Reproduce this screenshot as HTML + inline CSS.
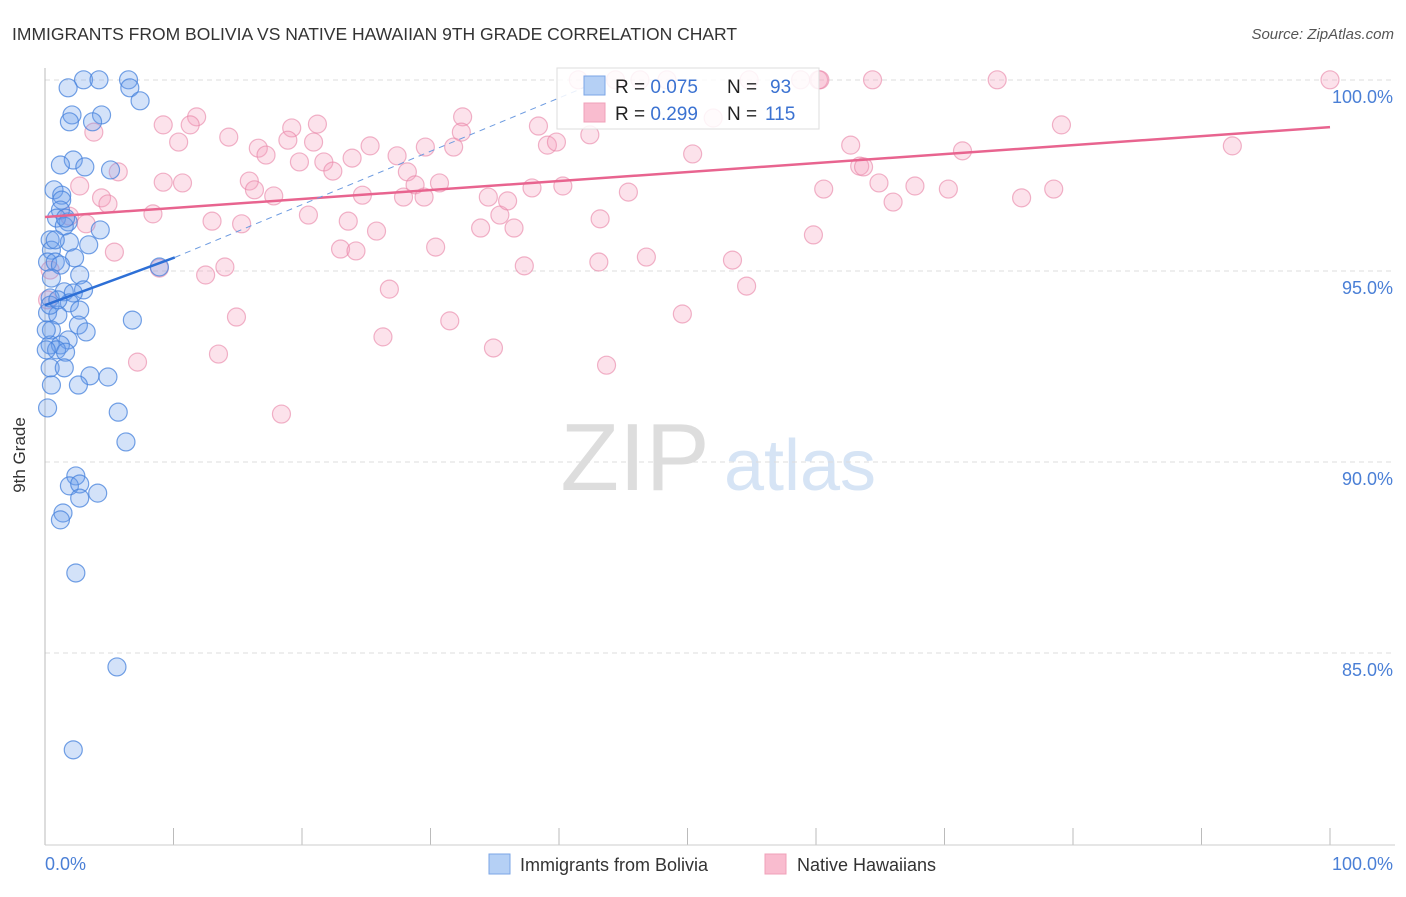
<!DOCTYPE html>
<html><head><meta charset="utf-8"><style>
body{margin:0;background:#fff;font-family:"Liberation Sans",sans-serif}
svg text{font-family:"Liberation Sans",sans-serif}
</style></head><body>
<svg width="1406" height="892" id="chart">
<text x="12" y="40" font-size="17.5" fill="#333">IMMIGRANTS FROM BOLIVIA VS NATIVE HAWAIIAN 9TH GRADE CORRELATION CHART</text>
<text x="1394" y="39" font-size="15" fill="#555" font-style="italic" text-anchor="end">Source: ZipAtlas.com</text>
<g>
<text x="635" y="490" font-size="96" fill="#ddd" font-family="Liberation Serif" text-anchor="middle">ZIP</text>
<text x="800" y="490" font-size="72" fill="#d6e4f5" text-anchor="middle">atlas</text>
</g>
<g id="grid"></g>
<line x1="45" y1="68" x2="45" y2="845" stroke="#bbb"/>
<line x1="45" y1="845" x2="1395" y2="845" stroke="#ccc"/>
<text x="25" y="455" font-size="17" fill="#333" text-anchor="middle" transform="rotate(-90 25 455)">9th Grade</text>
<text x="45" y="870" font-size="18" fill="#4a7fd6">0.0%</text>
<text x="1393" y="870" font-size="18" fill="#4a7fd6" text-anchor="end">100.0%</text>
<g id="pts"></g>
<g id="lines"></g>
<g>
<rect x="557" y="68" width="262" height="61" fill="#fff" fill-opacity="0.85" stroke="#ddd"/>
<rect x="584" y="76" width="21" height="19" fill="#b5d0f5" stroke="#7ba6e6"/>
<rect x="584" y="103" width="21" height="19" fill="#f9bccf" stroke="#f0a0b8"/>
<text x="615" y="93" font-size="19" fill="#222">R = <tspan fill="#3b72d1">0.075</tspan><tspan x="727">N =</tspan><tspan x="770" fill="#3b72d1">93</tspan></text>
<text x="615" y="120" font-size="19" fill="#222">R = <tspan fill="#3b72d1">0.299</tspan><tspan x="727">N =</tspan><tspan x="765" fill="#3b72d1">115</tspan></text>
</g>
<g>
<rect x="489" y="854" width="21" height="20" fill="#b5d0f5" stroke="#7ba6e6"/>
<text x="520" y="871" font-size="18" fill="#333">Immigrants from Bolivia</text>
<rect x="765" y="854" width="21" height="20" fill="#f9bccf" stroke="#f0a0b8"/>
<text x="797" y="871" font-size="18" fill="#333">Native Hawaiians</text>
</g>
</svg>
<script>
const yTicks=[100,95,90,85];
const yTickLabels=["100.0%","95.0%","90.0%","85.0%"];
const xTicks=[0,10,20,30,40,50,60,70,80,90,100];
const blueX=[3.0,4.2,6.5,6.6,1.8,7.4,2.1,4.4,1.9,3.7,2.2,1.2,3.1,5.1,0.7,1.3,1.3,1.2,0.9,1.8,1.5,4.3,0.4,1.9,3.4,0.5,2.3,0.2,0.8,1.2,2.7,0.5,3.0,1.5,2.2,0.4,1.9,2.7,0.2,1.0,6.8,0.5,2.6,3.2,1.8,0.4,1.2,0.9,1.6,0.4,1.5,3.5,4.9,0.5,2.6,0.2,5.7,6.3,2.4,1.9,2.7,4.1,2.7,1.4,1.2,2.4,5.6,2.2,8.9,0.1,0.1,0.4,0.8,1.6,1.0];
const blueY=[100.45,100.45,100.45,100.24,100.24,99.9,99.53,99.53,99.35,99.35,98.35,98.22,98.17,98.09,97.57,97.43,97.30,97.04,96.83,96.73,96.62,96.52,96.26,96.20,96.13,95.99,95.79,95.68,95.68,95.60,95.34,95.26,94.95,94.90,94.87,94.74,94.61,94.42,94.35,94.29,94.16,93.90,94.03,93.85,93.64,93.51,93.51,93.38,93.32,92.91,92.91,92.70,92.67,92.46,92.46,91.86,91.75,90.97,90.08,89.82,89.87,89.63,89.50,89.11,88.93,87.54,85.08,82.91,95.55,93.90,93.38,94.55,96.26,96.83,94.69];
const pinkX=[3.8,2.7,4.4,4.9,5.7,3.2,1.9,5.4,0.4,0.2,8.9,7.2,9.2,10.4,11.8,11.3,9.2,10.7,8.4,14.3,16.6,17.2,15.9,16.3,17.8,13.0,15.3,12.5,14.0,14.9,13.5,18.4,19.2,18.9,21.2,20.9,19.8,21.7,22.4,23.9,25.3,20.5,24.7,23.6,25.8,23.0,24.2,27.4,28.2,28.8,27.9,29.5,30.7,29.6,31.8,32.5,32.4,30.4,26.8,26.3,31.5,34.9,33.9,34.5,35.4,36.0,36.5,37.9,38.4,39.1,39.8,40.3,37.3,41.5,42.4,43.2,43.1,43.7,45.4,46.8,44.4,50.4,48.4,52.0,49.6,53.5,54.6,59.8,60.6,58.8,60.2,62.7,63.4,63.7,64.4,64.9,66.0,67.7,70.3,74.1,71.4,76.0,78.5,79.1,92.4,100.0,54.8,60.3,46.3];
const pinkY=[99.08,97.67,97.36,97.20,98.04,96.68,96.88,95.94,95.47,94.69,95.52,93.06,99.27,98.82,99.48,99.27,97.77,97.75,96.94,98.95,98.66,98.48,97.80,97.57,97.41,96.75,96.68,95.34,95.55,94.24,93.27,91.70,99.19,98.87,99.29,98.82,98.30,98.30,98.06,98.40,98.72,96.91,97.43,96.75,96.49,96.02,95.97,98.46,98.04,97.70,97.38,97.38,97.75,98.69,98.69,99.48,99.08,96.07,94.97,93.72,94.14,93.43,96.57,97.38,96.91,97.28,96.57,97.62,99.24,98.74,98.82,97.67,95.58,100.45,99.01,96.81,95.68,92.98,97.51,95.81,100.45,98.51,100.45,99.45,94.32,95.73,95.05,96.39,97.59,100.45,100.45,98.74,98.19,98.17,100.45,97.75,97.25,97.67,97.59,100.45,98.59,97.36,97.59,99.27,98.72,100.45,100.45,100.45,100.45];
const blueTrendX=[0,10.1];const blueTrendY=[94.55,95.80];
const blueDashX=[10.1,42.4];const blueDashY=[95.80,100.31];
const pinkTrendX=[0,100];const pinkTrendY=[96.86,99.21];
const NS="http://www.w3.org/2000/svg";
function xs(v){return 45+v*12.85;}
function ys(v){return 97+(100-v)*38.2;}
const grid=document.getElementById('grid');
yTicks.forEach((t,i)=>{
 const l=document.createElementNS(NS,'line');
 
 
 const gy=ys(t)-17;
 l.setAttribute('x1',45);l.setAttribute('x2',1395);l.setAttribute('y1',gy);l.setAttribute('y2',gy);
 l.setAttribute('stroke','#ddd');l.setAttribute('stroke-dasharray','5,4');
 grid.appendChild(l);
 const tx=document.createElementNS(NS,'text');
 
 
 tx.setAttribute('x',1393);tx.setAttribute('y',ys(t)+6);tx.setAttribute('text-anchor','end');
 tx.setAttribute('font-size','18');tx.setAttribute('fill','#4a7fd6');tx.textContent=yTickLabels[i];
 grid.appendChild(tx);
});
xTicks.forEach(t=>{
 const l=document.createElementNS(NS,'line');
 
 
 l.setAttribute('x1',xs(t));l.setAttribute('x2',xs(t));l.setAttribute('y1',828);l.setAttribute('y2',845);
 l.setAttribute('stroke','#bbb');grid.appendChild(l);
});
const pts=document.getElementById('pts');
function dot(x,y,fill,stroke,name){
 const c=document.createElementNS(NS,'circle');
 
 
 c.setAttribute('cx',xs(x));c.setAttribute('cy',ys(y));c.setAttribute('r',9);
 c.setAttribute('fill',fill);c.setAttribute('stroke',stroke);c.setAttribute('stroke-width','1.2');
 pts.appendChild(c);
}
pinkX.forEach((x,i)=>dot(x,pinkY[i],'rgba(244,160,188,0.3)','rgba(232,130,165,0.6)','hawaiian-point'));
blueX.forEach((x,i)=>dot(x,blueY[i],'rgba(110,160,235,0.3)','rgba(70,130,220,0.75)','bolivia-point'));
const lines=document.getElementById('lines');
function ln(X,Y,color,w,dash,name){
 const l=document.createElementNS(NS,'line');
 
 
 l.setAttribute('x1',xs(X[0]));l.setAttribute('y1',ys(Y[0]));l.setAttribute('x2',xs(X[1]));l.setAttribute('y2',ys(Y[1]));
 l.setAttribute('stroke',color);l.setAttribute('stroke-width',w);
 if(dash)l.setAttribute('stroke-dasharray',dash);
 lines.appendChild(l);
}
ln(pinkTrendX,pinkTrendY,'#e8648f',2.5,null,'hawaiian-trendline');
ln(blueTrendX,blueTrendY,'#2d6fd6',2.5,null,'bolivia-trendline');
ln(blueDashX,blueDashY,'#6d9be0',1,'6,5','bolivia-trendline-extension');
</script>
</body></html>
